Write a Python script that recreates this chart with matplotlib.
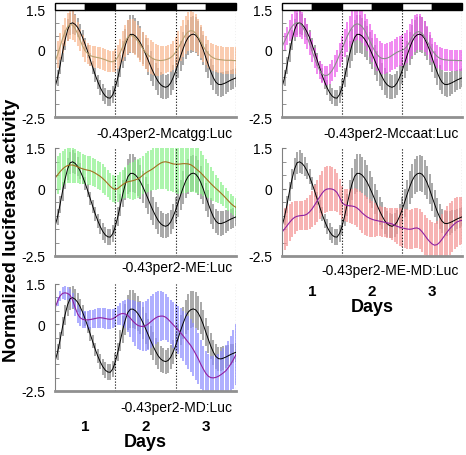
import matplotlib.pyplot as plt

plt.rcParams['font.family'] = ['Liberation Sans', 'DejaVu Sans']

# time points (hours), one sample per hour over 3 days
hours = list(range(73))

# reference -0.43per2:Luc (black line, grey bars), same in every panel
wt_mean = [-1.40, -1.05, -0.60, -0.10, 0.35, 0.72, 0.95, 0.99, 0.93, 0.82,
           0.65, 0.44, 0.19, -0.08, -0.37, -0.66, -0.94, -1.19, -1.41, -1.59,
           -1.72, -1.79, -1.80, -1.67, -1.41, -1.04, -0.62, -0.19, 0.17, 0.44,
           0.56, 0.56, 0.50, 0.39, 0.24, 0.05, -0.16, -0.38, -0.61, -0.82,
           -1.01, -1.18, -1.30, -1.37, -1.40, -1.36, -1.24, -1.04, -0.80, -0.52,
           -0.23, 0.04, 0.28, 0.45, 0.54, 0.57, 0.53, 0.41, 0.22, -0.02,
           -0.30, -0.57, -0.83, -1.05, -1.21, -1.29, -1.30, -1.27, -1.23, -1.18,
           -1.13, -1.09, -1.05]
wt_err = [0.30, 0.30, 0.32, 0.35, 0.38, 0.40, 0.42, 0.42, 0.40, 0.35,
          0.30, 0.28, 0.25, 0.25, 0.25, 0.25, 0.25, 0.26, 0.28, 0.30,
          0.30, 0.30, 0.30, 0.30, 0.32, 0.35, 0.40, 0.50, 0.58, 0.65,
          0.70, 0.70, 0.68, 0.65, 0.62, 0.60, 0.58, 0.56, 0.55, 0.52,
          0.50, 0.50, 0.48, 0.46, 0.45, 0.45, 0.45, 0.46, 0.48, 0.52,
          0.56, 0.60, 0.64, 0.66, 0.68, 0.68, 0.66, 0.64, 0.60, 0.56,
          0.52, 0.50, 0.48, 0.46, 0.45, 0.45, 0.45, 0.44, 0.42, 0.40,
          0.38, 0.36, 0.35]

# -0.43per2-Mcatgg:Luc
mcatgg_mean = [-0.45, -0.20, 0.10, 0.40, 0.65, 0.85, 0.93, 0.90, 0.78, 0.58,
               0.35, 0.12, -0.05, -0.15, -0.22, -0.26, -0.28, -0.30, -0.32, -0.35,
               -0.38, -0.42, -0.45, -0.45, -0.40, -0.28, -0.10, 0.12, 0.32, 0.46,
               0.52, 0.50, 0.42, 0.30, 0.16, 0.02, -0.10, -0.20, -0.28, -0.34,
               -0.38, -0.40, -0.41, -0.40, -0.38, -0.35, -0.30, -0.22, -0.10, 0.05,
               0.22, 0.40, 0.55, 0.66, 0.70, 0.68, 0.60, 0.46, 0.30, 0.12,
               -0.04, -0.16, -0.25, -0.31, -0.35, -0.37, -0.38, -0.39, -0.40, -0.40,
               -0.40, -0.41, -0.41]
mcatgg_err = [0.50, 0.50, 0.50, 0.52, 0.52, 0.52, 0.55, 0.55, 0.50, 0.45,
              0.42, 0.40, 0.40, 0.40, 0.40, 0.40, 0.40, 0.40, 0.40, 0.40,
              0.40, 0.40, 0.40, 0.40, 0.42, 0.45, 0.50, 0.55, 0.60, 0.62,
              0.62, 0.62, 0.62, 0.62, 0.62, 0.62, 0.62, 0.62, 0.62, 0.62,
              0.60, 0.58, 0.55, 0.52, 0.50, 0.50, 0.52, 0.55, 0.58, 0.62,
              0.65, 0.68, 0.70, 0.72, 0.72, 0.72, 0.70, 0.66, 0.62, 0.58,
              0.55, 0.52, 0.50, 0.50, 0.50, 0.50, 0.50, 0.50, 0.50, 0.50,
              0.50, 0.50, 0.50]

# -0.43per2-Mccaat:Luc
mccaat_mean = [0.10, 0.30, 0.50, 0.70, 0.85, 0.95, 1.00, 0.98, 0.88, 0.70,
               0.48, 0.22, -0.05, -0.32, -0.56, -0.76, -0.90, -0.96, -0.96, -0.90,
               -0.78, -0.62, -0.42, -0.20, 0.02, 0.25, 0.47, 0.66, 0.81, 0.91,
               0.95, 0.93, 0.85, 0.72, 0.54, 0.34, 0.14, -0.04, -0.18, -0.28,
               -0.33, -0.34, -0.32, -0.28, -0.22, -0.16, -0.10, -0.06, -0.03, 0.02,
               0.12, 0.28, 0.45, 0.58, 0.65, 0.66, 0.60, 0.48, 0.32, 0.14,
               -0.02, -0.15, -0.25, -0.32, -0.36, -0.38, -0.39, -0.40, -0.40, -0.40,
               -0.41, -0.41, -0.41]
mccaat_err = [0.30, 0.32, 0.35, 0.40, 0.45, 0.50, 0.52, 0.52, 0.50, 0.48,
              0.45, 0.42, 0.40, 0.38, 0.36, 0.35, 0.35, 0.35, 0.35, 0.36,
              0.38, 0.40, 0.42, 0.45, 0.48, 0.52, 0.55, 0.58, 0.60, 0.60,
              0.60, 0.60, 0.60, 0.60, 0.60, 0.60, 0.60, 0.60, 0.60, 0.58,
              0.56, 0.55, 0.55, 0.55, 0.55, 0.55, 0.55, 0.56, 0.58, 0.60,
              0.62, 0.65, 0.68, 0.68, 0.68, 0.66, 0.62, 0.58, 0.54, 0.50,
              0.46, 0.44, 0.42, 0.40, 0.40, 0.40, 0.40, 0.40, 0.40, 0.40,
              0.40, 0.40, 0.40]

# -0.43per2-ME:Luc
me_mean = [0.38, 0.50, 0.62, 0.72, 0.80, 0.85, 0.87, 0.87, 0.84, 0.80,
           0.76, 0.73, 0.70, 0.68, 0.66, 0.62, 0.57, 0.51, 0.45, 0.37,
           0.28, 0.18, 0.08, 0.00, -0.04, 0.00, 0.08, 0.15, 0.21, 0.25,
           0.27, 0.29, 0.32, 0.36, 0.42, 0.50, 0.57, 0.63, 0.68, 0.74,
           0.81, 0.88, 0.94, 0.98, 0.99, 0.97, 0.94, 0.91, 0.90, 0.90,
           0.91, 0.92, 0.92, 0.91, 0.88, 0.82, 0.74, 0.66, 0.58, 0.48,
           0.38, 0.28, 0.18, 0.09, 0.00, -0.08, -0.17, -0.26, -0.36, -0.46,
           -0.56, -0.64, -0.70]
me_err = [0.70, 0.70, 0.68, 0.66, 0.65, 0.65, 0.65, 0.65, 0.62, 0.60,
          0.58, 0.56, 0.55, 0.54, 0.53, 0.52, 0.52, 0.52, 0.52, 0.52,
          0.52, 0.50, 0.50, 0.50, 0.50, 0.50, 0.52, 0.55, 0.58, 0.62,
          0.66, 0.70, 0.72, 0.72, 0.72, 0.72, 0.74, 0.75, 0.76, 0.80,
          0.85, 0.90, 0.95, 1.00, 1.02, 1.05, 1.05, 1.05, 1.08, 1.10,
          1.10, 1.10, 1.08, 1.05, 1.00, 0.95, 0.90, 0.85, 0.80, 0.75,
          0.70, 0.65, 0.60, 0.55, 0.50, 0.46, 0.42, 0.40, 0.38, 0.36,
          0.35, 0.35, 0.35]

# -0.43per2-ME-MD:Luc
memd_mean = [-1.62, -1.50, -1.38, -1.26, -1.15, -1.07, -1.03, -1.01, -1.00, -0.99,
             -0.95, -0.87, -0.76, -0.62, -0.47, -0.32, -0.18, -0.07, -0.02, -0.01,
             -0.02, -0.06, -0.15, -0.32, -0.52, -0.60, -0.63, -0.64, -0.65, -0.67,
             -0.72, -0.80, -0.90, -0.98, -1.05, -1.10, -1.14, -1.17, -1.19, -1.21,
             -1.23, -1.25, -1.27, -1.29, -1.31, -1.36, -1.40, -1.43, -1.46, -1.48,
             -1.50, -1.51, -1.50, -1.47, -1.46, -1.50, -1.60, -1.72, -1.85, -1.96,
             -2.05, -2.10, -2.08, -2.00, -1.88, -1.75, -1.62, -1.50, -1.40, -1.31,
             -1.24, -1.20, -1.18]
memd_err = [0.80, 0.78, 0.75, 0.70, 0.65, 0.60, 0.56, 0.54, 0.54, 0.55,
            0.58, 0.62, 0.68, 0.74, 0.78, 0.82, 0.84, 0.85, 0.85, 0.84,
            0.82, 0.78, 0.72, 0.66, 0.62, 0.60, 0.60, 0.62, 0.65, 0.68,
            0.70, 0.72, 0.73, 0.73, 0.72, 0.70, 0.66, 0.62, 0.58, 0.56,
            0.55, 0.55, 0.55, 0.56, 0.58, 0.62, 0.66, 0.70, 0.72, 0.73,
            0.73, 0.73, 0.73, 0.73, 0.73, 0.73, 0.74, 0.75, 0.76, 0.78,
            0.80, 0.84, 0.88, 0.92, 0.95, 0.96, 0.96, 0.96, 0.95, 0.94,
            0.92, 0.90, 0.88]

# -0.43per2-MD:Luc
md_mean = [0.60, 0.85, 1.05, 1.15, 1.17, 1.15, 1.08, 0.90, 0.62, 0.38,
           0.24, 0.18, 0.16, 0.16, 0.17, 0.19, 0.21, 0.23, 0.24, 0.23,
           0.21, 0.19, 0.18, 0.20, 0.26, 0.33, 0.38, 0.40, 0.38, 0.32,
           0.22, 0.11, 0.02, -0.05, -0.08, -0.09, -0.06, 0.00, 0.08, 0.16,
           0.23, 0.28, 0.30, 0.30, 0.26, 0.18, 0.08, -0.02, -0.12, -0.22,
           -0.33, -0.44, -0.56, -0.68, -0.80, -0.95, -1.12, -1.30, -1.50, -1.68,
           -1.84, -1.95, -2.00, -2.01, -1.99, -1.95, -1.89, -1.82, -1.74, -1.62,
           -1.48, -1.32, -1.14]
md_err = [0.15, 0.18, 0.20, 0.22, 0.25, 0.25, 0.25, 0.28, 0.30, 0.32,
          0.32, 0.32, 0.32, 0.33, 0.34, 0.35, 0.36, 0.37, 0.38, 0.38,
          0.38, 0.38, 0.38, 0.36, 0.35, 0.36, 0.40, 0.46, 0.54, 0.62,
          0.70, 0.78, 0.84, 0.88, 0.90, 0.92, 0.94, 0.95, 0.96, 0.97,
          0.97, 0.96, 0.94, 0.90, 0.86, 0.84, 0.84, 0.86, 0.88, 0.90,
          0.92, 0.94, 0.96, 0.98, 1.00, 1.00, 0.98, 0.95, 0.92, 0.88,
          0.85, 0.82, 0.80, 0.80, 0.82, 0.85, 0.88, 0.92, 0.96, 1.00,
          1.05, 1.10, 1.15]

# light/dark schedule (start hour, length, colour)
ld_start = [0, 12, 24, 36, 48, 60]
ld_len = [12, 12, 12, 12, 12, 12]
ld_color = ['white', 'black', 'white', 'black', 'white', 'black']

day_lines = [24, 48, 72]
day_ticks = [12, 36, 60]
day_labels = ['1', '2', '3']

W, H = 466, 456
fig = plt.figure(figsize=(W / 100, H / 100), dpi=100)


def panel(left, top, right, bottom, mean, err, bar_color, line_color,
          label, label_off, show_days):
    ax = fig.add_axes([left / W, 1 - bottom / H, (right - left) / W, (bottom - top) / H])
    ax.errorbar(hours, wt_mean, yerr=wt_err, fmt='none', ecolor='#9a9a9a', elinewidth=1.2)
    ax.errorbar(hours, mean, yerr=err, fmt='none', ecolor=bar_color, elinewidth=1.2, alpha=0.85)
    ax.plot(hours, wt_mean, color='black', lw=0.7)
    ax.plot(hours, mean, color=line_color, lw=0.8)
    for d in day_lines:
        ax.axvline(d, color='black', ls=':', lw=0.8)
    ax.set_xlim(0, 72)
    ax.set_ylim(-2.5, 1.5)
    ax.set_yticks([1.5, 0, -2.5])
    ax.set_yticklabels(['1.5', '0', '-2.5'], fontsize=10)
    ax.set_yticks([1.0, 0.5, -0.5, -1.0, -1.5, -2.0], minor=True)
    ax.tick_params(axis='y', which='both', direction='in', length=3, color='#808080', pad=7)
    ax.spines['top'].set_visible(False)
    ax.spines['right'].set_visible(False)
    ax.spines['left'].set_color('#808080')
    ax.spines['bottom'].set_color('#909090')
    ax.spines['bottom'].set_linewidth(2)
    ax.text(0.98, -label_off / (bottom - top), label, transform=ax.transAxes,
            ha='right', va='center', fontsize=10)
    if show_days:
        ax.set_xticks(day_ticks)
        ax.set_xticklabels(day_labels, fontsize=11, fontweight='bold')
        ax.tick_params(axis='x', length=0, pad=20)
        ax.set_xlabel('Days', fontsize=13, fontweight='bold', labelpad=0)
    else:
        ax.set_xticks([])
    return ax


def ld_bar(left, right):
    ax = fig.add_axes([left / W, 1 - 11 / H, (right - left) / W, 7 / H])
    ax.barh(0, ld_len, left=ld_start, height=1, color=ld_color, edgecolor='black',
            linewidth=1.0, clip_on=False)
    ax.set_xlim(0, 72)
    ax.set_ylim(-0.5, 0.5)
    ax.axis('off')


panel(55, 10, 236, 118, mcatgg_mean, mcatgg_err, '#f8b890', '#b8a070',
      '-0.43per2-Mcatgg:Luc', 16, False)
panel(282, 10, 462, 118, mccaat_mean, mccaat_err, '#ec5cec', '#8c8c8c',
      '-0.43per2-Mccaat:Luc', 16, False)
panel(55, 149, 236, 257, me_mean, me_err, '#8cf28c', '#a07020',
      '-0.43per2-ME:Luc', 11, False)
panel(282, 149, 462, 257, memd_mean, memd_err, '#f59595', '#9020a0',
      '-0.43per2-ME-MD:Luc', 14, True)
panel(55, 285, 236, 392, md_mean, md_err, '#8f8fff', '#9020a0',
      '-0.43per2-MD:Luc', 16, True)

ld_bar(55, 236)
ld_bar(282, 462)

fig.text(12 / W, 1 - 230 / H, 'Normalized luciferase activity', rotation=90,
         ha='center', va='center', fontsize=13.5, fontweight='bold')

fig.savefig('out.png', dpi=100)
